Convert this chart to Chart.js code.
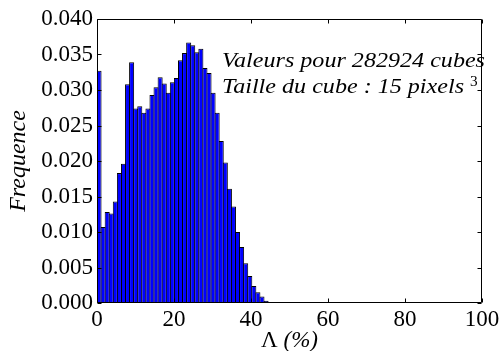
<!DOCTYPE html>
<html><head><meta charset="utf-8">
<script src="https://cdn.jsdelivr.net/npm/chart.js@4.4.0/dist/chart.umd.min.js"></script>
<style>html,body{margin:0;padding:0;background:#fff}#c{display:block}</style>
</head><body>
<canvas id="c" width="503" height="351"></canvas>
<script>
// Histogram bin centres (Λ, %)
const binCenters = [0.53,1.59,2.65,3.70,4.76,5.82,6.88,7.94,8.99,10.05,
  11.11,12.17,13.23,14.28,15.34,16.40,17.46,18.52,19.57,20.63,
  21.69,22.75,23.81,24.86,25.92,26.98,28.04,29.10,30.15,31.21,
  32.27,33.33,34.39,35.44,36.50,37.56,38.62,39.68,40.73,41.79,
  42.85,43.91,44.97,46.02,47.08,48.14,49.20];
// Frequence per bin
const frequencies = [0.0327,0.0107,0.0128,0.0126,0.0143,0.0183,0.0196,0.0308,0.0339,0.0274,
  0.0277,0.0268,0.0274,0.0293,0.0304,0.0318,0.0309,0.0296,0.0311,0.0317,
  0.0342,0.0352,0.0367,0.0363,0.0353,0.0358,0.0331,0.0324,0.0296,0.0268,
  0.0228,0.0198,0.0161,0.0136,0.0100,0.0079,0.0056,0.0038,0.0024,0.0015,
  0.0009,0.0003,0.00015,0.00008,0.00005,0.00003,0.00001];
const xTicks = [0,20,40,60,80,100];
const yTicks = [0.000,0.005,0.010,0.015,0.020,0.025,0.030,0.035,0.040];
const xTitleSymbol = 'Λ';
const xTitleUnit = '(%)';
const yTitle = 'Frequence';
const noteLine1 = 'Valeurs pour 282924 cubes';
const noteLine2 = 'Taille du cube : 15 pixels';
const noteSup = '3';

const SERIF = '"Liberation Serif", "DejaVu Serif", serif';

const decor = {
  id: 'decor',
  afterDraw(chart) {
    const ctx = chart.ctx, a = chart.chartArea;
    const xs = chart.scales.x, ys = chart.scales.y;
    ctx.save();
    ctx.strokeStyle = '#000';
    ctx.lineWidth = 1;
    ctx.beginPath();
    const L = Math.round(a.left) + 0.5, R = Math.round(a.right) - 0.5;
    const T = Math.round(a.top) + 0.5, B = Math.round(a.bottom) - 0.5;
    ctx.rect(L, T, R - L, B - T);
    const tl = 4;
    xTicks.forEach(v => {
      const px = Math.round(xs.getPixelForValue(v)) + 0.5;
      ctx.moveTo(px, B); ctx.lineTo(px, B - tl);
      ctx.moveTo(px, T); ctx.lineTo(px, T + tl);
    });
    yTicks.forEach(v => {
      const py = Math.round(ys.getPixelForValue(v)) + 0.5;
      ctx.moveTo(L, py); ctx.lineTo(L + tl, py);
      ctx.moveTo(R, py); ctx.lineTo(R - tl, py);
    });
    ctx.stroke();

    ctx.fillStyle = '#000';
    // y title
    ctx.save();
    ctx.translate(25, (a.top + a.bottom) / 2);
    ctx.rotate(-Math.PI / 2);
    ctx.font = 'italic 24px ' + SERIF;
    ctx.textAlign = 'center';
    ctx.textBaseline = 'alphabetic';
    ctx.fillText(yTitle, 0, 0);
    ctx.restore();

    // x title
    const fUp = '23px ' + SERIF, fIt = 'italic 23px ' + SERIF;
    ctx.font = fUp; const w1 = ctx.measureText(xTitleSymbol + ' ').width;
    ctx.font = fIt; const w2 = ctx.measureText(xTitleUnit).width;
    const cx = (a.left + a.right) / 2;
    let x0 = cx - (w1 + w2) / 2;
    ctx.textAlign = 'left'; ctx.textBaseline = 'alphabetic';
    ctx.font = fUp; ctx.fillText(xTitleSymbol, x0, 347);
    ctx.font = fIt; ctx.fillText(xTitleUnit, x0 + w1, 347);

    // annotation (slightly widened like the reference)
    ctx.save();
    ctx.font = 'italic 22px ' + SERIF;
    const k = 263 / ctx.measureText(noteLine1).width;
    ctx.translate(222, 0);
    ctx.scale(k, 1);
    ctx.fillText(noteLine1, 0, 67);
    ctx.fillText(noteLine2, 0, 93);
    const w3 = ctx.measureText(noteLine2 + ' ').width;
    ctx.font = '14px ' + SERIF;
    ctx.fillText(noteSup, w3, 86);
    ctx.restore();
    ctx.restore();
  }
};

new Chart(document.getElementById('c'), {
  type: 'bar',
  data: {
    datasets: [{
      data: binCenters.map((x, i) => ({ x: x, y: frequencies[i] })),
      backgroundColor: '#0000ff',
      borderColor: '#000000',
      borderWidth: 1,
      barPercentage: 1.25,
      categoryPercentage: 1.0
    }]
  },
  options: {
    responsive: false,
    animation: false,
    devicePixelRatio: 1,
    layout: { padding: { left: 0, right: 21, top: 19, bottom: 0 } },
    plugins: { legend: { display: false }, tooltip: { enabled: false } },
    scales: {
      x: {
        type: 'linear', min: 0, max: 100, offset: false,
        afterBuildTicks: s => { s.ticks = xTicks.map(v => ({ value: v })); },
        afterFit: s => { s.height = 48; },
        grid: { display: false, drawTicks: false },
        border: { display: false },
        ticks: { color: '#000', font: { family: SERIF, size: 23 }, padding: 3, maxRotation: 0, autoSkip: false,
                 callback: v => String(v) }
      },
      y: {
        type: 'linear', min: 0, max: 0.04,
        afterBuildTicks: s => { s.ticks = yTicks.map(v => ({ value: v })); },
        afterFit: s => { s.width = 97; },
        grid: { display: false, drawTicks: false },
        border: { display: false },
        ticks: { color: '#000', font: { family: SERIF, size: 23 }, padding: 4, autoSkip: false,
                 callback: v => Number(v).toFixed(3) }
      }
    }
  },
  plugins: [decor]
});
</script>
</body></html>
